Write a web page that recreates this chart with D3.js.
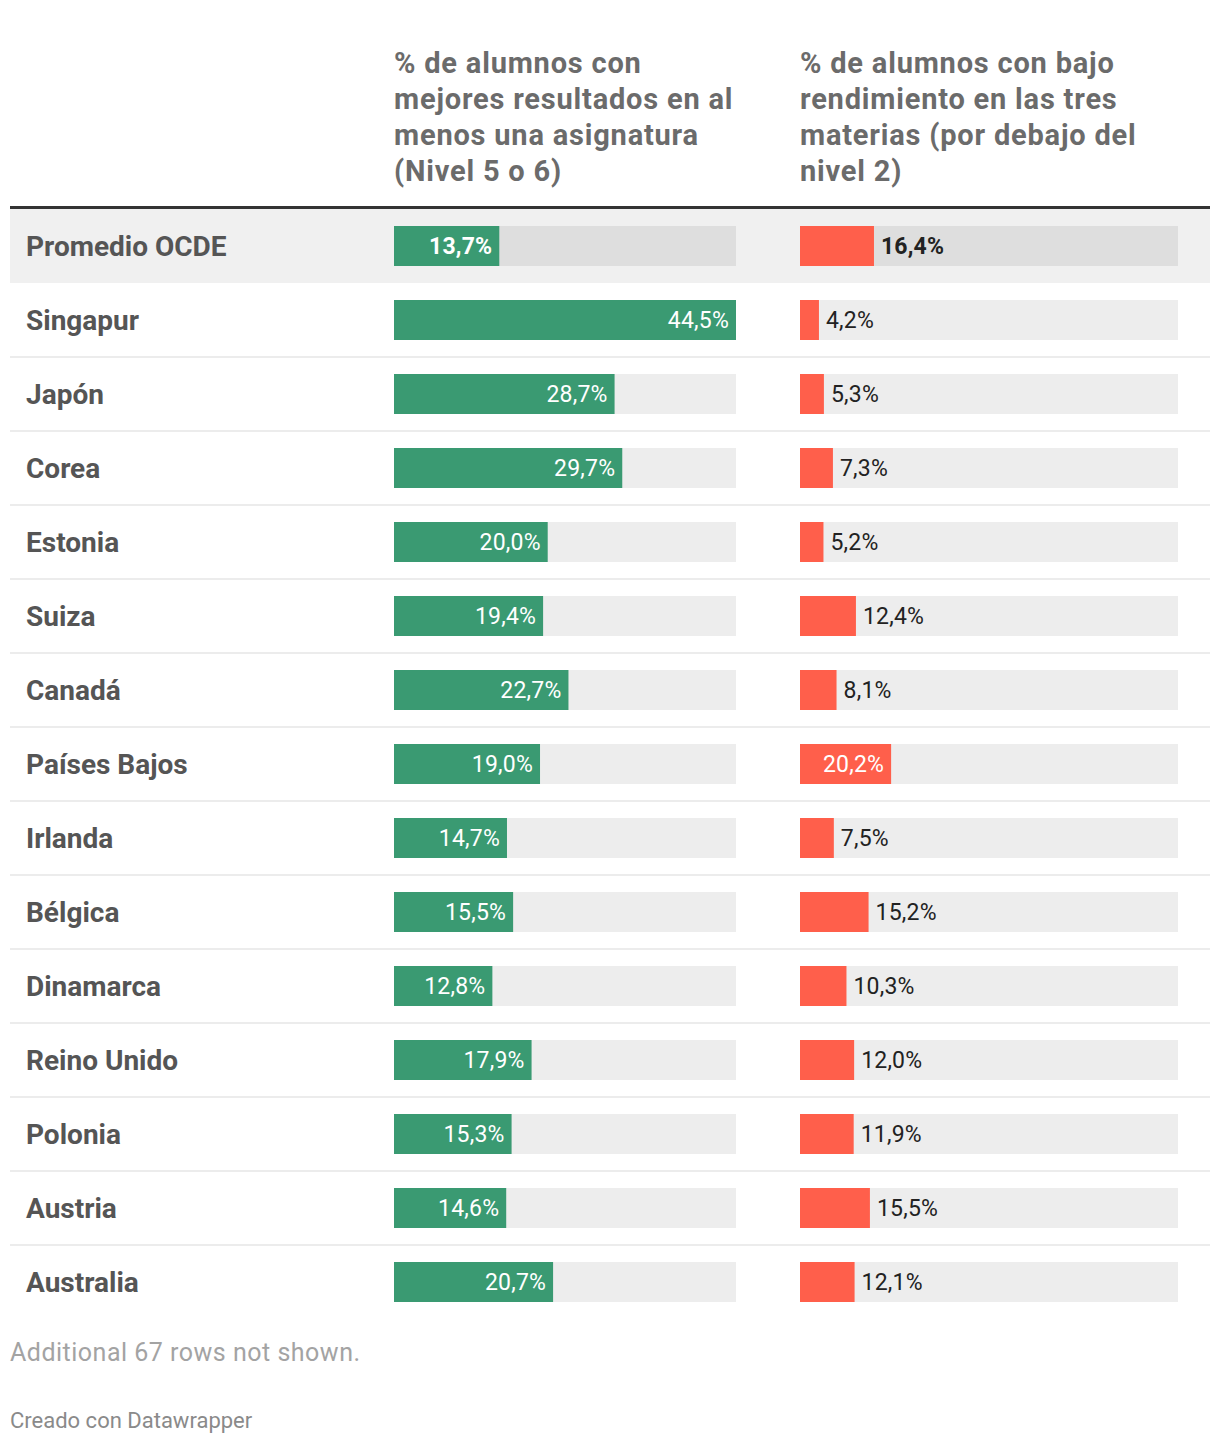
<!DOCTYPE html>
<html><head><meta charset="utf-8">
<script src="https://cdn.jsdelivr.net/npm/d3@7"></script>
<style>body{margin:0;background:#fff;font-family:Roboto,sans-serif}</style>
</head><body><svg id="c" width="1220" height="1444"></svg>
<script>
const countries = ["Promedio OCDE","Singapur","Japón","Corea","Estonia","Suiza","Canadá","Países Bajos","Irlanda","Bélgica","Dinamarca","Reino Unido","Polonia","Austria","Australia"];
const topPerformers = [13.7,44.5,28.7,29.7,20.0,19.4,22.7,19.0,14.7,15.5,12.8,17.9,15.3,14.6,20.7];
const lowPerformers = [16.4,4.2,5.3,7.3,5.2,12.4,8.1,20.2,7.5,15.2,10.3,12.0,11.9,15.5,12.1];
const header1 = ["% de alumnos con","mejores resultados en al","menos una asignatura","(Nivel 5 o 6)"];
const header2 = ["% de alumnos con bajo","rendimiento en las tres","materias (por debajo del","nivel 2)"];
const footNote = "Additional 67 rows not shown.";
const credit = "Creado con Datawrapper";

const svg = d3.select("#c");
const fmt = v => d3.format(".1f")(v).replace(".", ",") + "%";

// headers
[[header1,394],[header2,800]].forEach(([lines,x])=>{
  svg.append("text").attr("x",x).attr("y",73).attr("fill","#6b6b6b")
    .style("font-size","29px").style("font-weight","700").style("letter-spacing","0.8px")
    .selectAll("tspan").data(lines).join("tspan")
    .attr("x",x).attr("dy",(d,i)=>i?36:0).text(d=>d);
});

const rowTop = 209, rowH = 74;
const y = d3.scaleBand().domain(countries).range([rowTop, rowTop+rowH*countries.length]);
const x1 = d3.scaleLinear().domain([0,44.5]).range([394,736]);
const x2 = d3.scaleLinear().domain([0,83.8]).range([800,1178]);

// highlighted row bg
svg.append("rect").attr("x",10).attr("y",y(countries[0])).attr("width",1200).attr("height",rowH).attr("fill","#f0f0f0");
// separators
svg.selectAll("line.sep").data(countries.slice(2)).join("line")
  .attr("class","sep")
  .attr("x1",10).attr("x2",1210)
  .attr("y1",d=>y(d)).attr("y2",d=>y(d))
  .attr("stroke","#ececec").attr("stroke-width",2);
// thick header rule
svg.append("rect").attr("x",10).attr("y",206).attr("width",1200).attr("height",3).attr("fill","#333");

const barH = 40;
const rows = svg.selectAll("g.row").data(countries).join("g").attr("class","row")
  .attr("transform",d=>`translate(0,${y(d)})`);

rows.append("text").attr("x",26).attr("y",rowH/2).attr("dy","0.35em")
  .attr("fill","#555").style("font-size","28px").style("font-weight","700").text(d=>d);

function drawBars(xs, vals, color){
  rows.append("rect").attr("x",xs.range()[0]).attr("y",(rowH-barH)/2)
    .attr("width",xs.range()[1]-xs.range()[0]).attr("height",barH)
    .attr("fill",(d,i)=>i===0?"#dedede":"#ededed");
  rows.append("rect").attr("x",xs.range()[0]).attr("y",(rowH-barH)/2)
    .attr("width",(d,i)=>xs(vals[i])-xs.range()[0]).attr("height",barH).attr("fill",color);
  rows.append("text").attr("y",rowH/2).attr("dy","0.35em")
    .style("font-size","23px").style("letter-spacing","0.2px").style("font-weight",(d,i)=>i===0?"700":"400")
    .text((d,i)=>fmt(vals[i]))
    .each(function(d,i){
      const t = d3.select(this);
      const w = this.getComputedTextLength();
      const bw = xs(vals[i])-xs.range()[0];
      if (bw > w + 16) {
        t.attr("x",xs(vals[i])-7).attr("text-anchor","end").attr("fill","#fff");
      } else {
        t.attr("x",xs(vals[i])+7).attr("text-anchor","start").attr("fill","#222");
      }
    });
}
drawBars(x1, topPerformers, "#3a9a72");
drawBars(x2, lowPerformers, "#ff5f4b");

svg.append("text").attr("x",10).attr("y",1361).attr("fill","#a3a3a3").style("font-size","25px").style("letter-spacing","0.5px").text(footNote);
svg.append("text").attr("x",10).attr("y",1428).attr("fill","#8a8a8a").style("font-size","22px").text(credit);
</script></body></html>
